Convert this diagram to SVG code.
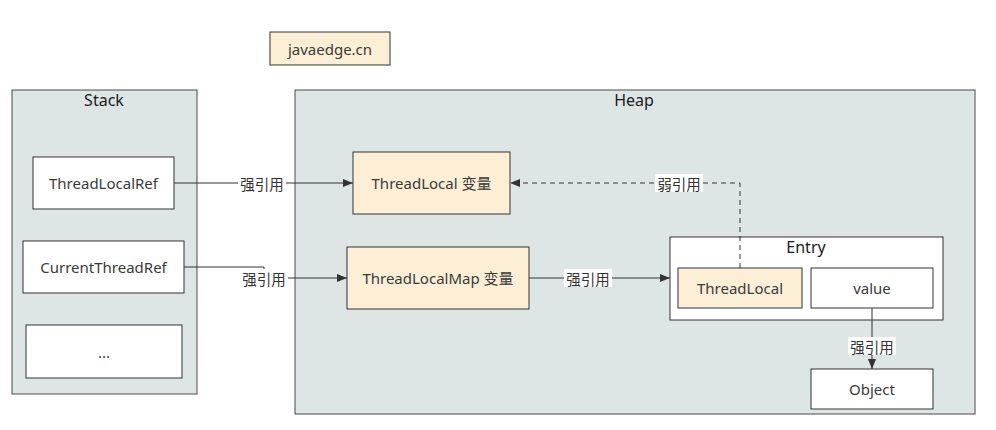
<svg xmlns="http://www.w3.org/2000/svg" width="996" height="430" viewBox="0 0 996 430">
<style>
.bg{fill:#ffffff}
.cont{fill:#dee5e5;stroke:#4a4a4a;stroke-width:1}
.box{fill:#ffffff;stroke:#333333;stroke-width:1}
.tan{fill:#fdefd6;stroke:#333333;stroke-width:1}
.t{font-family:"Noto Sans","Liberation Sans","Noto Sans CJK SC",sans-serif;font-size:15px;fill:#3a3a3a;text-anchor:middle;dominant-baseline:central}
.title{font-family:"Noto Sans","Liberation Sans",sans-serif;font-size:16px;fill:#1a1a1a;text-anchor:middle;dominant-baseline:central;font-weight:normal}
.lbl{font-family:"Noto Sans CJK SC",sans-serif;font-size:14.5px;fill:#333333;text-anchor:middle;dominant-baseline:central}
.lblbg{fill:#ffffff}
.edge{fill:none;stroke:#333333;stroke-width:1}
.dash{stroke-dasharray:5,4}
</style>
<defs>
<marker id="arr" viewBox="0 0 10 10" refX="10" refY="5" markerWidth="10" markerHeight="10" markerUnits="userSpaceOnUse" orient="auto">
<path d="M0,1 L10,5 L0,9 Z" fill="#333333"/>
</marker>
</defs>
<rect class="bg" x="0" y="0" width="996" height="430"/>
<g id="watermark-node">
<rect class="tan" x="270" y="32" width="120" height="33"/>
<text class="t" x="330" y="48.5">javaedge.cn</text>
</g>
<g id="stack">
<rect class="cont" x="12" y="90" width="185" height="304"/>
<text class="title" x="104" y="100">Stack</text>
</g>
<g id="heap">
<rect class="cont" x="295" y="90" width="680" height="324"/>
<text class="title" x="634" y="100">Heap</text>
</g>
<g id="threadLocalRef">
<rect class="box" x="33" y="157" width="141" height="52"/>
<text class="t" x="103.5" y="183">ThreadLocalRef</text>
</g>
<g id="currentThreadRef">
<rect class="box" x="23" y="241" width="161" height="52"/>
<text class="t" x="103.5" y="267">CurrentThreadRef</text>
</g>
<g id="more">
<rect class="box" x="26" y="325" width="156" height="53"/>
<text class="t" x="104" y="351.5">...</text>
</g>
<g id="threadLocalVar">
<rect class="tan" x="353" y="152" width="157" height="62"/>
<text class="t" x="431.5" y="183">ThreadLocal 变量</text>
</g>
<g id="threadLocalMapVar">
<rect class="tan" x="347" y="247" width="182" height="62"/>
<text class="t" x="438" y="278">ThreadLocalMap 变量</text>
</g>
<g id="entry">
<rect class="box" x="670" y="237" width="273" height="83"/>
<text class="title" x="806" y="247">Entry</text>
</g>
<g id="entryThreadLocal">
<rect class="tan" x="678" y="268" width="124" height="40"/>
<text class="t" x="740" y="288">ThreadLocal</text>
</g>
<g id="value">
<rect class="box" x="811" y="268" width="122" height="40"/>
<text class="t" x="872" y="288">value</text>
</g>
<g id="object">
<rect class="box" x="811" y="369" width="122" height="40"/>
<text class="t" x="872" y="389">Object</text>
</g>
<g id="connectors">
<path class="edge" d="M174,183 L353,183" marker-end="url(#arr)"/>
<rect class="lblbg" x="238" y="174" width="48" height="18"/>
<text class="lbl" x="262" y="183">强引用</text>
<path class="edge" d="M184,267 L264,267 L264,278 L347,278" marker-end="url(#arr)"/>
<rect class="lblbg" x="240" y="269" width="48" height="18"/>
<text class="lbl" x="264" y="278">强引用</text>
<path class="edge" d="M529,278 L670,278" marker-end="url(#arr)"/>
<rect class="lblbg" x="564" y="269" width="48" height="18"/>
<text class="lbl" x="588" y="278">强引用</text>
<path class="edge dash" d="M740,268 L740,183 L510,183" marker-end="url(#arr)"/>
<rect class="lblbg" x="655" y="174" width="48" height="18"/>
<text class="lbl" x="679" y="183">弱引用</text>
<path class="edge" d="M872,308 L872,369" marker-end="url(#arr)"/>
<rect class="lblbg" x="848" y="337" width="48" height="18"/>
<text class="lbl" x="872" y="346">强引用</text>
</g>
</svg>
